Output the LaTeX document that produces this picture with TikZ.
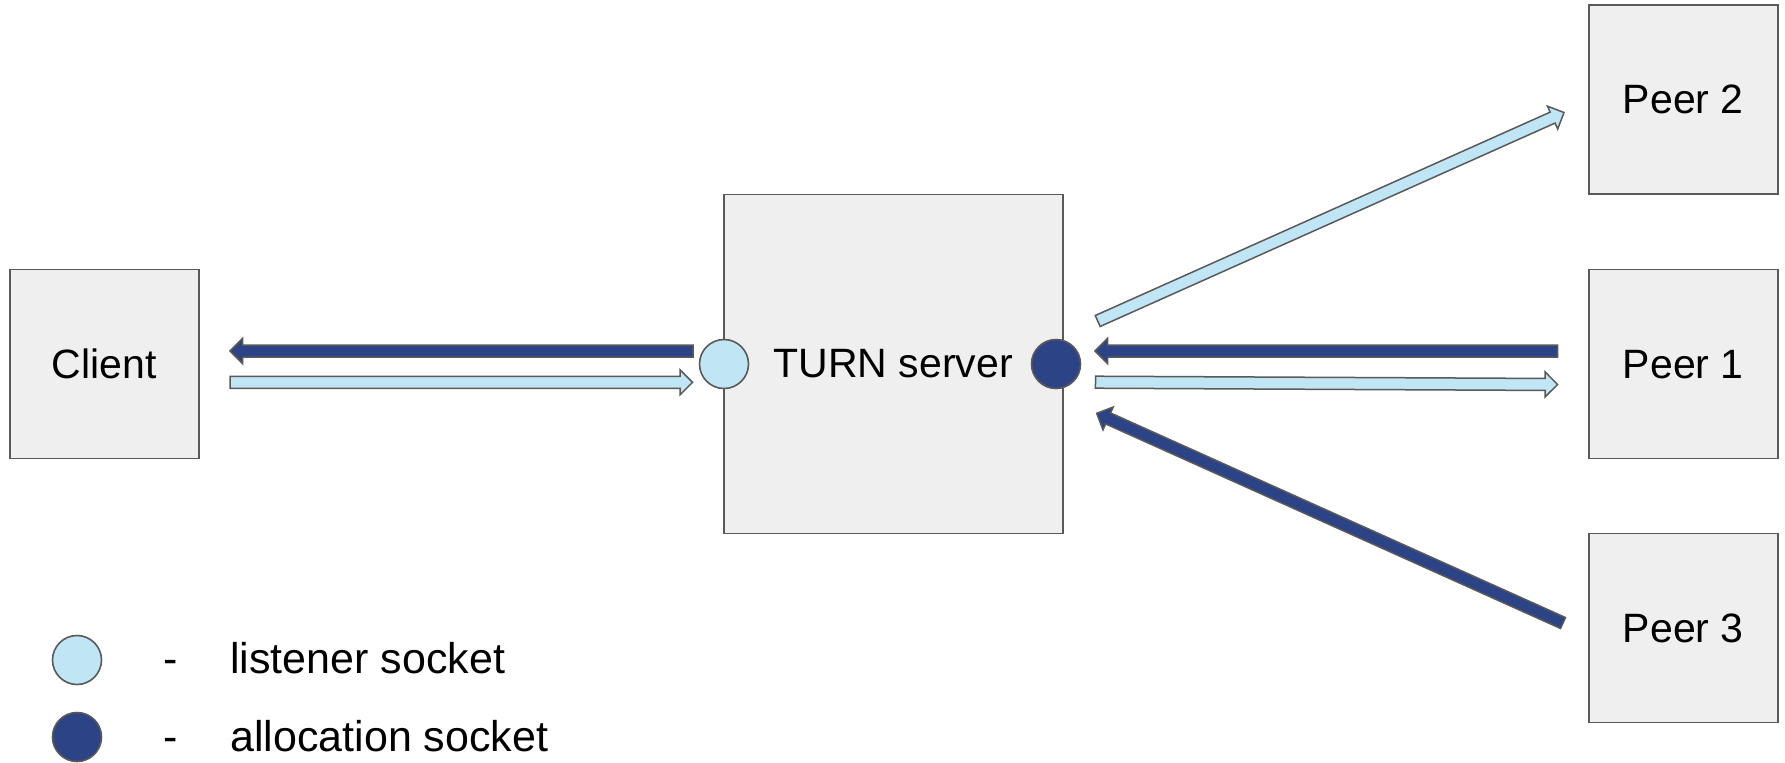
\documentclass[tikz,border=0pt]{standalone}
\usepackage{fontspec}
\setmainfont{Liberation Sans}
\usetikzlibrary{calc}

\definecolor{boxgray}{HTML}{EFEFEF}
\definecolor{edgegray}{HTML}{595959}
\definecolor{sockdark}{HTML}{2C4386}
\definecolor{socklight}{HTML}{C0E5F5}

\tikzset{
  box/.style={draw=edgegray, fill=boxgray, line width=0.75pt, minimum size=94.5pt,
    inner sep=0pt, font=\fontsize{20.5}{24}\selectfont},
  socket/.style={circle, draw=edgegray, line width=0.8pt, minimum size=24.5pt, inner sep=0pt},
  keytext/.style={inner sep=0pt, anchor=base, font=\fontsize{21.5}{26}\selectfont},
  arrowline/.style={draw=edgegray, line width=0.75pt, line join=miter}
}

% wide outlined arrow: #1 fill, #2 tail, #3 tip
\newcommand{\blockarrow}[3]{%
  \coordinate (ah) at ($(#3)!6.25pt!(#2)$);
  \filldraw[arrowline, fill=#1]
    ($(#2)!3pt!90:(#3)$) -- ($(ah)!3pt!90:(#3)$) -- ($(ah)!6.25pt!90:(#3)$)
    -- (#3) -- ($(ah)!6.25pt!-90:(#3)$) -- ($(ah)!3pt!-90:(#3)$)
    -- ($(#2)!3pt!-90:(#3)$) -- cycle;
}

\begin{document}
\begin{tikzpicture}[x=0.5pt, y=-0.5pt]
  \useasboundingbox (0,0) rectangle (1785,762);

  % boxes
  \node[box] (client) at (104.3,364.2) {Client};
  \node[box, minimum size=169.5pt] (turn) at (893.3,364) {TURN server};
  \node[box] (peertwo) at (1683.3,99.3) {Peer 2};
  \node[box] (peerone) at (1683.3,364.2) {Peer 1};
  \node[box] (peerthree) at (1683.3,628) {Peer 3};

  % sockets on the server
  \node[socket, fill=socklight] (listen) at (724,364) {};
  \node[socket, fill=sockdark] (alloc) at (1056,364) {};

  % arrow ends
  \coordinate (cl-in) at (230,351);
  \coordinate (cl-out) at (230,382.3);
  \coordinate (ls-out) at (693,351);
  \coordinate (ls-in) at (692.5,382.3);
  \coordinate (al-in) at (1095,351);
  \coordinate (al-out) at (1095.5,382.2);
  \coordinate (pone-out) at (1557.6,351);
  \coordinate (pone-in) at (1557.6,384.5);
  \coordinate (al-up) at (1097.7,321);
  \coordinate (ptwo-in) at (1564,112.5);
  \coordinate (pthree-out) at (1563,623);
  \coordinate (al-down) at (1096.7,413.3);

  \blockarrow{sockdark}{ls-out}{cl-in}
  \blockarrow{socklight}{cl-out}{ls-in}
  \blockarrow{sockdark}{pone-out}{al-in}
  \blockarrow{socklight}{al-out}{pone-in}
  \blockarrow{socklight}{al-up}{ptwo-in}
  \blockarrow{sockdark}{pthree-out}{al-down}

  % key
  \node[socket, fill=socklight] (keylisten) at (77,660) {};
  \node[keytext] (dashlisten) at (171,673.3) {-};
  \node[keytext, anchor=base west] (txtlisten) at (230,673.3) {listener socket};
  \node[socket, fill=sockdark] (keyalloc) at (77,737) {};
  \node[keytext] (dashalloc) at (171,751.7) {-};
  \node[keytext, anchor=base west] (txtalloc) at (230,751.7) {allocation socket};
\end{tikzpicture}
\end{document}
